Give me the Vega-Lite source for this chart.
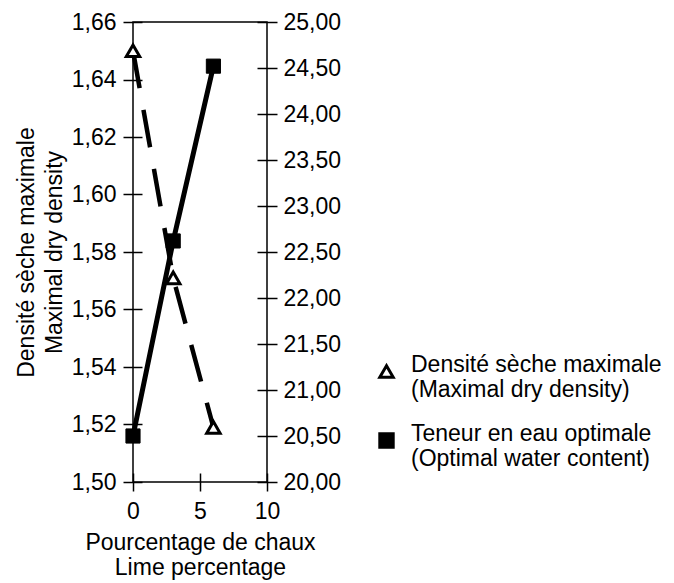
{
  "$schema": "https://vega.github.io/schema/vega-lite/v6.json",
  "width": 134,
  "height": 460,
  "autosize": {"type": "none"},
  "padding": {"left": 133, "top": 22, "right": 407, "bottom": 101},
  "background": "white",
  "config": {
    "font": "Liberation Sans",
    "view": {"stroke": "black", "strokeWidth": 1.5},
    "axis": {
      "domain": false, "labelFlush": false,
      "tickColor": "black", "tickWidth": 1.5,
      "labelColor": "black", "labelFontSize": 23,
      "titleColor": "black", "titleFontSize": 23, "titleFontWeight": "normal",
      "grid": false
    },
    "legend": {
      "orient": "none", "legendX": 242, "legendY": 338, "title": null,
      "labelFontSize": 23, "labelColor": "black", "labelLimit": 400,
      "symbolStrokeWidth": 3, "symbolStrokeColor": "black",
      "labelOffset": 13, "labelBaseline": "alphabetic", "rowPadding": 20
    }
  },
  "data": {
    "values": [
      {"pct": 0, "series": "density", "value": 1.65},
      {"pct": 3, "series": "density", "value": 1.571},
      {"pct": 6, "series": "density", "value": 1.519},
      {"pct": 0, "series": "water", "value": 20.5},
      {"pct": 3, "series": "water", "value": 22.62},
      {"pct": 6, "series": "water", "value": 24.52}
    ]
  },
  "encoding": {
    "x": {
      "field": "pct", "type": "quantitative",
      "scale": {"domain": [0, 10], "nice": false},
      "axis": {"values": [0, 5, 10], "offset": -9, "tickSize": 18, "labelPadding": 9, "title": ["Pourcentage de chaux", "Lime percentage"], "titlePadding": 8}
    }
  },
  "layer": [
    {
      "transform": [{"filter": "datum.series == 'density'"}],
      "encoding": {
        "y": {
          "field": "value", "type": "quantitative",
          "scale": {"domain": [1.5, 1.66], "nice": false, "zero": false},
          "axis": {
            "orient": "left", "values": [1.5, 1.52, 1.54, 1.56, 1.58, 1.6, 1.62, 1.64, 1.66],
            "labelExpr": "replace(format(datum.value, '.2f'), '.', ',')",
            "offset": -9, "tickSize": 19, "labelPadding": 7,
            "title": ["Densité sèche maximale", "Maximal dry density"],
            "titlePadding": 5, "titleLineHeight": 28
          }
        }
      },
      "layer": [
        {"mark": {"type": "line", "color": "black", "strokeWidth": 4.5, "strokeDash": [38, 22]}},
        {
          "mark": {"type": "point", "size": 180, "strokeWidth": 3, "opacity": 1},
          "encoding": {
            "shape": {
              "field": "series", "type": "nominal",
              "scale": {"domain": ["density", "water"], "range": ["triangle-up", "square"]},
              "legend": {
                "symbolSize": 180,
                "labelExpr": "datum.value == 'density' ? ['Densité sèche maximale', '(Maximal dry density)'] : ['Teneur en eau optimale', '(Optimal water content)']"
              }
            },
            "fill": {
              "field": "series", "type": "nominal",
              "scale": {"domain": ["density", "water"], "range": ["white", "black"]},
              "legend": {
                "symbolSize": 180,
                "labelExpr": "datum.value == 'density' ? ['Densité sèche maximale', '(Maximal dry density)'] : ['Teneur en eau optimale', '(Optimal water content)']"
              }
            },
            "stroke": {
              "field": "series", "type": "nominal",
              "scale": {"domain": ["density", "water"], "range": ["black", "black"]},
              "legend": {
                "symbolSize": 180,
                "labelExpr": "datum.value == 'density' ? ['Densité sèche maximale', '(Maximal dry density)'] : ['Teneur en eau optimale', '(Optimal water content)']"
              }
            }
          }
        }
      ]
    },
    {
      "transform": [{"filter": "datum.series == 'water'"}],
      "encoding": {
        "y": {
          "field": "value", "type": "quantitative",
          "scale": {"domain": [20, 25], "nice": false, "zero": false},
          "axis": {
            "orient": "right", "values": [20, 20.5, 21, 21.5, 22, 22.5, 23, 23.5, 24, 24.5, 25],
            "labelExpr": "replace(format(datum.value, '.2f'), '.', ',')",
            "offset": -10, "tickSize": 20, "labelPadding": 6,
            "title": null
          }
        }
      },
      "layer": [
        {"mark": {"type": "line", "color": "black", "strokeWidth": 5}},
        {
          "mark": {"type": "point", "size": 200, "strokeWidth": 1, "opacity": 1},
          "encoding": {
            "shape": {
              "field": "series", "type": "nominal",
              "scale": {"domain": ["density", "water"], "range": ["triangle-up", "square"]},
              "legend": {
                "symbolSize": 180,
                "labelExpr": "datum.value == 'density' ? ['Densité sèche maximale', '(Maximal dry density)'] : ['Teneur en eau optimale', '(Optimal water content)']"
              }
            },
            "fill": {
              "field": "series", "type": "nominal",
              "scale": {"domain": ["density", "water"], "range": ["white", "black"]},
              "legend": {
                "symbolSize": 180,
                "labelExpr": "datum.value == 'density' ? ['Densité sèche maximale', '(Maximal dry density)'] : ['Teneur en eau optimale', '(Optimal water content)']"
              }
            },
            "stroke": {
              "field": "series", "type": "nominal",
              "scale": {"domain": ["density", "water"], "range": ["black", "black"]},
              "legend": {
                "symbolSize": 180,
                "labelExpr": "datum.value == 'density' ? ['Densité sèche maximale', '(Maximal dry density)'] : ['Teneur en eau optimale', '(Optimal water content)']"
              }
            }
          }
        }
      ]
    }
  ],
  "resolve": {"scale": {"y": "independent"}}
}
